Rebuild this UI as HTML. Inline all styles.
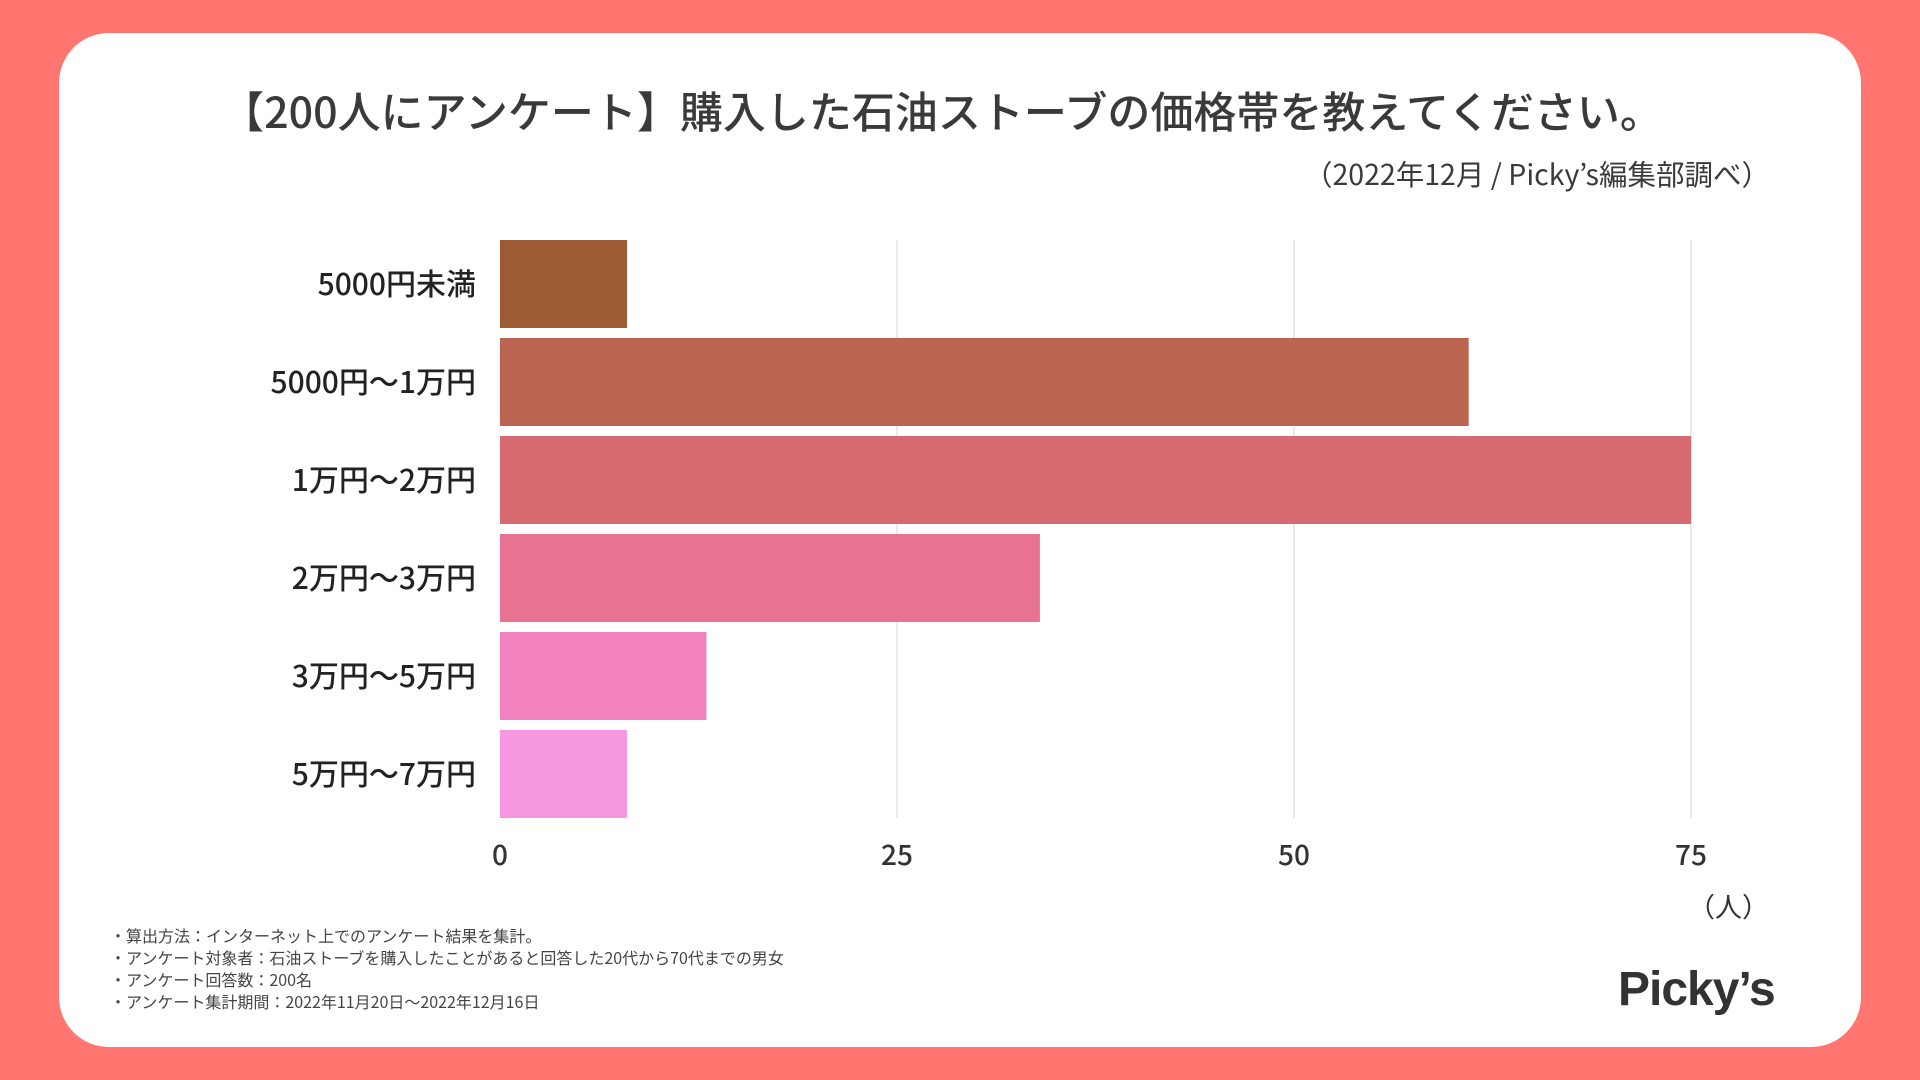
<!DOCTYPE html>
<html><head><meta charset="utf-8"><style>
html,body{margin:0;padding:0}
body{width:1920px;height:1080px;background:#ff7671;position:relative;overflow:hidden;font-family:"Noto Sans CJK JP","Liberation Sans",sans-serif;color:#333}
#card{position:absolute;left:59px;top:33px;width:1802px;height:1014px;background:#fff;border-radius:50px}
.t{position:absolute;white-space:nowrap}
</style></head><body>
<div id="card"></div>
<div class="t" style="left:-18px;width:1920px;text-align:center;top:80px;font-size:43px;font-weight:500;color:#3a3a3a;line-height:60px">【200人にアンケート】購入した石油ストーブの価格帯を教えてください。</div>
<div class="t" style="right:150px;top:155px;font-size:28.5px;color:#3a3a3a;line-height:38px">（2022年12月 / Picky’s編集部調べ）</div>
<svg id="chart" width="1920" height="1080" style="position:absolute;left:0;top:0;font-family:'Noto Sans CJK JP','Liberation Sans',sans-serif"></svg>
<div class="t" style="left:1688px;top:887px;font-size:27px;color:#333;line-height:38px">（人）</div>
<div style="position:absolute;left:110px;top:924px;font-size:16px;line-height:22px;color:#444">
<div>・算出方法：インターネット上でのアンケート結果を集計。</div>
<div>・アンケート対象者：石油ストーブを購入したことがあると回答した20代から70代までの男女</div>
<div>・アンケート回答数：200名</div>
<div>・アンケート集計期間：2022年11月20日〜2022年12月16日</div>
</div>
<div class="t" style="left:1618px;top:962px;font-size:48px;font-weight:bold;color:#333;letter-spacing:-1px;font-family:'Liberation Sans',sans-serif">Picky’s</div>
<script>
const categories=["5000円未満","5000円〜1万円","1万円〜2万円","2万円〜3万円","3万円〜5万円","5万円〜7万円"];
const values=[8,61,75,34,13,8];
const ticks=[0,25,50,75];
const colors=["#9c5b33","#bb6450","#d66a70","#e77291","#f282be","#f598e0"];
const NS="http://www.w3.org/2000/svg";
const svg=document.getElementById('chart');
const x0=500,x1=1691,xmax=75,yTop=240,pitch=98,bh=88;
const xs=v=>x0+(x1-x0)*v/xmax;
const ys=i=>yTop+i*pitch;
const gridBottom=ys(categories.length-1)+bh;
function mk(t,a){const e=document.createElementNS(NS,t);for(const k in a)e.setAttribute(k,a[k]);svg.appendChild(e);return e;}
ticks.forEach(t=>{
 if(t>0){const g=mk('line',{x1:xs(t),x2:xs(t),y1:yTop,y2:gridBottom,stroke:'#e3e3e3','stroke-width':1.5});
 
 }
 const l=mk('text',{x:xs(t),y:865,'text-anchor':'middle','font-size':28,'font-weight':'500',fill:'#333'});
 
 
 l.textContent=t;
});
categories.forEach((c,i)=>{
 const r=mk('rect',{x:x0,y:ys(i),width:xs(values[i])-x0,height:bh,fill:colors[i]});
 
 
 const l=mk('text',{x:476,y:ys(i)+bh/2+11,'text-anchor':'end','font-size':30,'font-weight':'500',fill:'#222'});
 
 
 l.textContent=c;
});
</script>
</body></html>
